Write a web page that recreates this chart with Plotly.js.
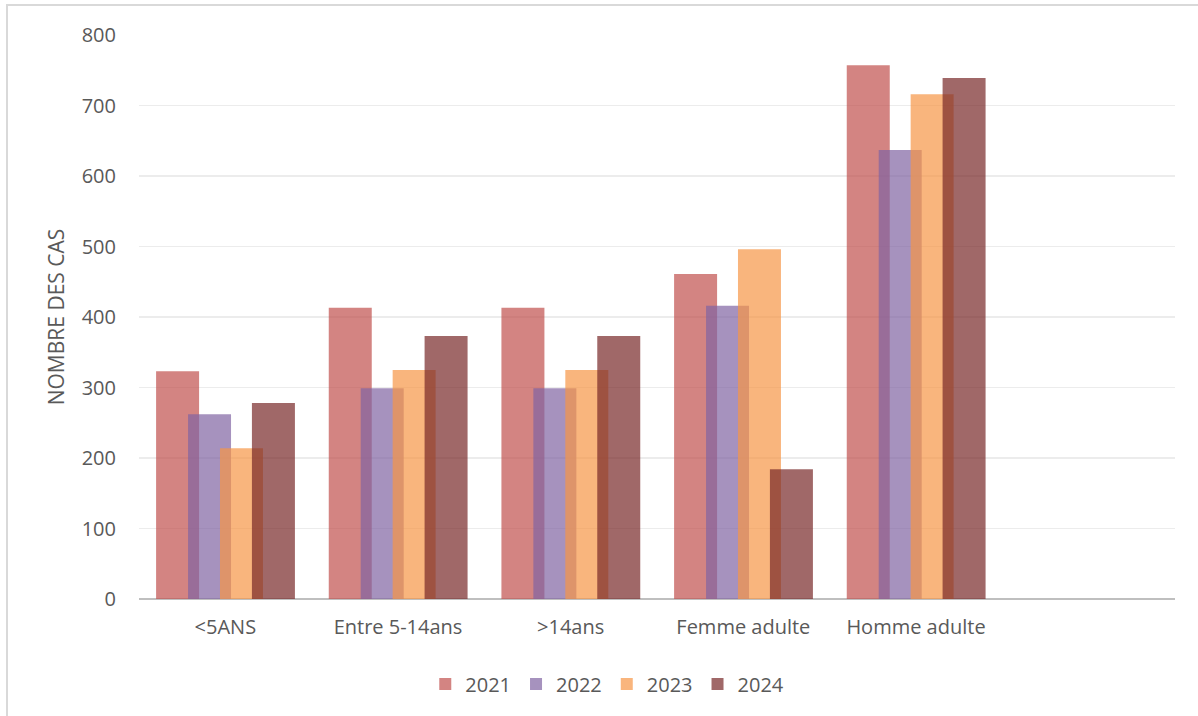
<!DOCTYPE html>
<html>
<head>
<meta charset="utf-8">
<script src="https://cdn.plot.ly/plotly-3.0.1.min.js"></script>
<style>
  html, body { margin: 0; padding: 0; background: #ffffff; }
  #chart { position: absolute; left: 0; top: 0; width: 1198px; height: 716px; }
  #frame { position: absolute; left: 6px; top: 4px; width: 1192px; height: 712px;
           border-left: 2px solid #d9d9d9; border-top: 2px solid #d9d9d9; pointer-events: none; }
</style>
</head>
<body>
<div id="chart"></div>
<div id="frame"></div>
<script>
const categories = ["<5ANS", "Entre 5-14ans", ">14ans", "Femme adulte", "Homme adulte"];
const years = ["2021", "2022", "2023", "2024"];
const values2021 = [323, 413, 413, 461, 757];
const values2022 = [262, 299, 299, 416, 637];
const values2023 = [214, 325, 325, 496, 716];
const values2024 = [278, 373, 373, 184, 739];
const yTicks = [0, 100, 200, 300, 400, 500, 600, 700, 800];

const series = [values2021, values2022, values2023, values2024];
const colors = ["rgba(192,80,77,0.7)", "rgba(128,100,162,0.7)", "rgba(247,150,70,0.7)", "rgba(120,40,40,0.7)"];
const offsets = [-0.401, -0.216, -0.031, 0.154];

const traces = series.map((vals, i) => ({
  type: "bar",
  name: years[i],
  x: categories,
  y: vals,
  width: 0.249,
  offset: offsets[i],
  marker: { color: colors[i], line: { width: 0 } },
  hoverinfo: "x+y+name"
}));

const layout = {
  width: 1198,
  height: 716,
  margin: { l: 139, r: 23, t: 35, b: 117 },
  paper_bgcolor: "#ffffff",
  plot_bgcolor: "#ffffff",
  barmode: "overlay",
  font: { family: "Open Sans, Liberation Sans, sans-serif", color: "#595959", size: 20 },
  showlegend: true,
  legend: {
    orientation: "h",
    x: 0.452, xanchor: "center",
    y: -0.1507, yanchor: "middle",
    font: { size: 20, color: "#595959" },
    traceorder: "normal",
    itemwidth: 30
  },
  xaxis: {
    type: "category",
    range: [-0.5, 5.5],
    showgrid: false,
    zeroline: false,
    showline: false,
    ticks: "",
    ticklabelstandoff: 14,
    tickfont: { size: 20, color: "#595959" },
    fixedrange: true
  },
  yaxis: {
    range: [0, 800],
    tickvals: yTicks,
    showgrid: true,
    gridcolor: "#ececec",
    gridwidth: 1.5,
    zeroline: true,
    zerolinecolor: "#bfbfbf",
    zerolinewidth: 2,
    showline: false,
    ticks: "",
    ticklabelstandoff: 22,
    tickfont: { size: 20, color: "#595959" },
    title: { text: "NOMBRE DES CAS", font: { size: 21, color: "#595959" }, standoff: 11 },
    fixedrange: true
  }
};

Plotly.newPlot("chart", traces, layout, { displayModeBar: false, staticPlot: true });
</script>
</body>
</html>
